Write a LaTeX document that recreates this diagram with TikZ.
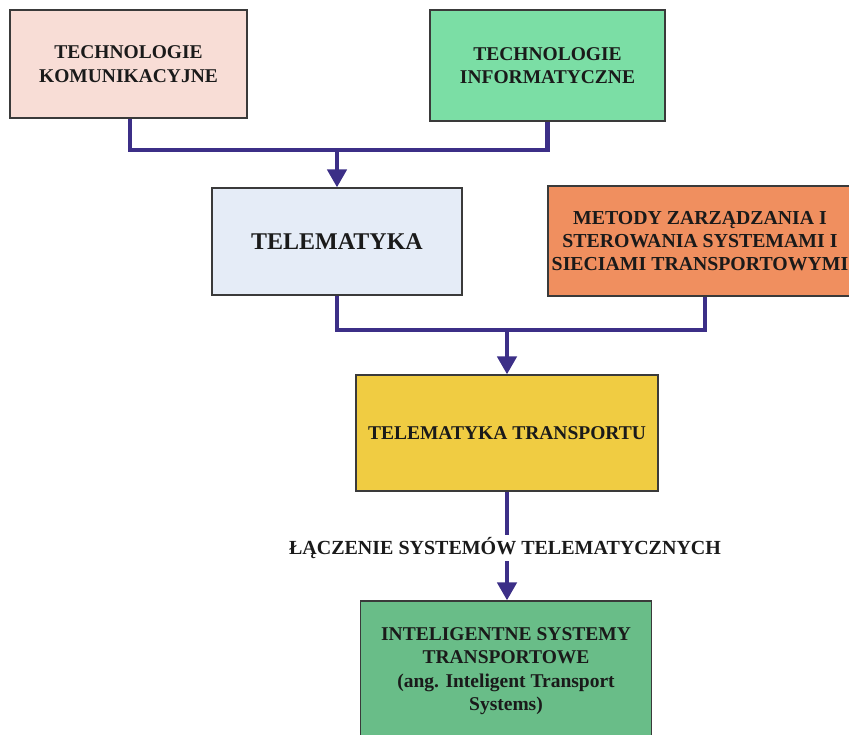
\documentclass[tikz,border=0pt]{standalone}
\usepackage{fontspec}
\setmainfont{Liberation Serif}
\usetikzlibrary{arrows.meta}
\definecolor{pinkA}{HTML}{F8DDD6}
\definecolor{greenB}{HTML}{7BDEA5}
\definecolor{blueT}{HTML}{E5ECF7}
\definecolor{orangeM}{HTML}{F08F5F}
\definecolor{yellowT}{HTML}{F0CC42}
\definecolor{greenI}{HTML}{69BD88}
\definecolor{navy}{HTML}{3C2F87}
\definecolor{boxline}{HTML}{3A3A3A}
\definecolor{txt}{HTML}{1A1A1A}
\begin{document}
\begin{tikzpicture}[x=1pt,y=-1pt,
  box/.style={draw=boxline, line width=1.2pt, align=center, inner sep=0pt,
    text=txt, font=\bfseries\fontsize{19.5}{23.5}\selectfont},
  conn/.style={draw=navy, line width=4.5pt},
  arr/.style={conn, -{Triangle[length=18pt,width=19pt]}}]
\useasboundingbox (0,0) rectangle (849,735);

% boxes
\node[box, fill=pinkA, minimum width=237pt, minimum height=108pt] (kom) at (128.5,64)
  {TECHNOLOGIE\\KOMUNIKACYJNE};
\node[box, fill=greenB, minimum width=235pt, minimum height=111pt] (inf) at (547.5,65.5)
  {TECHNOLOGIE\\INFORMATYCZNE};
\node[box, fill=blueT, minimum width=250pt, minimum height=107pt,
  font=\bfseries\fontsize{24}{28}\selectfont] (tel) at (337,241.5) {TELEMATYKA};
\node[box, fill=orangeM, minimum width=304pt, minimum height=110pt,
  font=\bfseries\fontsize{19.8}{23.3}\selectfont] (met) at (700,241)
  {METODY ZARZĄDZANIA I\\STEROWANIA SYSTEMAMI I\\SIECIAMI TRANSPORTOWYMI};
\node[box, fill=yellowT, minimum width=302pt, minimum height=116pt] (tt) at (507,433)
  {TELEMATYKA TRANSPORTU};
\node[box, fill=greenI, minimum width=291pt, minimum height=140pt] (its) at (506,671)
  {INTELIGENTNE SYSTEMY\\TRANSPORTOWE\\(ang. Inteligent Transport\\Systems)};

% connectors
\coordinate (j1) at (337,150);
\coordinate (j2) at (507,330);
\draw[conn] ([xshift=1.5pt]kom.south) |- (j1) -| (inf.south);
\draw[arr] (j1) -- (tel.north);
\draw[conn] (tel.south) |- (j2) -| ([xshift=5pt]met.south);
\draw[arr] (j2) -- (tt.north);
\draw[arr] (tt.south) -- (tt.south |- its.north);

\node[fill=white, inner sep=2pt, text=txt,
  font=\bfseries\fontsize{20}{24}\selectfont] (lab) at (505,548)
  {ŁĄCZENIE SYSTEMÓW TELEMATYCZNYCH};
\end{tikzpicture}
\end{document}
